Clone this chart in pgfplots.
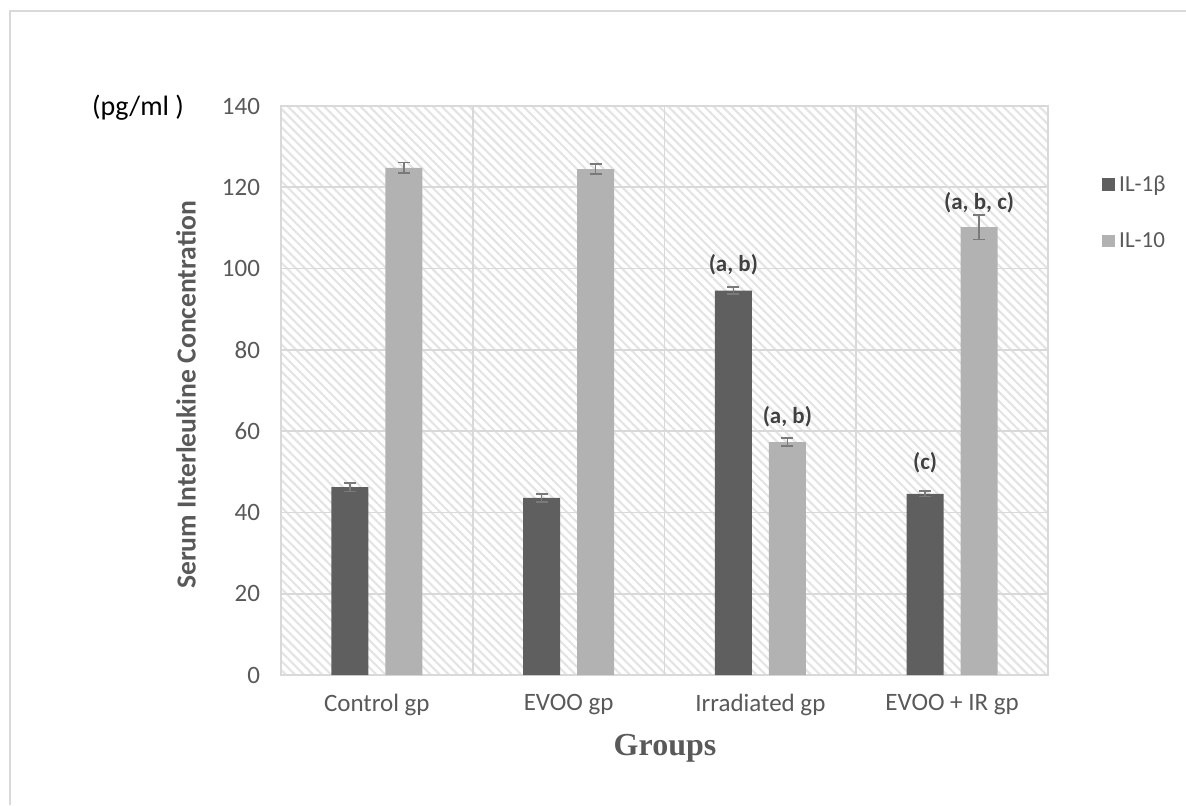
\documentclass[border=0pt]{standalone}
\usepackage{fontspec}
\setmainfont{Carlito}
\newfontfamily\timesf{Liberation Serif}
\usepackage{pgfplots}
\pgfplotsset{compat=1.18}
\usetikzlibrary{patterns.meta}
\definecolor{c1}{HTML}{5F5F5F}
\definecolor{c2}{HTML}{B2B2B2}
\definecolor{gridc}{HTML}{D9D9D9}
\definecolor{hatchc}{HTML}{E4E4E4}
\definecolor{tickc}{HTML}{595959}
\definecolor{errc}{HTML}{7A7A7A}
\definecolor{annc}{HTML}{404040}
\begin{document}
\begin{tikzpicture}
\path[use as bounding box] (0pt,0pt) rectangle (593pt,-402.5pt);
\draw[gridc, line width=0.75pt] (5pt,-402.5pt) -- (5pt,-5.5pt) -- (593pt,-5.5pt);
\begin{axis}[
  at={(140.5pt,-337.5pt)}, anchor=south west,
  scale only axis, width=383.5pt, height=284.5pt,
  ybar=8.5pt, bar width=18.5pt,
  xmin=-0.5, xmax=3.5, ymin=0, ymax=140,
  ytick={0,20,...,140},
  xtick={0,1,2,3},
  xticklabels={Control gp, EVOO gp, Irradiated gp, EVOO + IR gp},
  minor xtick={-0.5,0.5,1.5,2.5,3.5},
  xminorgrids, ymajorgrids,
  major tick length=0pt, minor tick length=0pt,
  grid style={draw=gridc, line width=0.9pt},
  minor grid style={draw=gridc, line width=0.9pt},
  major grid style={draw=gridc, line width=0.9pt},
  axis line style={draw=gridc, line width=0.9pt},
  axis background/.style={pattern={Lines[angle=-45,distance=3.2pt,line width=1.1pt]}, pattern color=hatchc},
  tick label style={font=\fontsize{12.5}{15}\selectfont, text=tickc},
  yticklabel style={xshift=-7pt},
  xticklabel style={yshift=-6pt},
  /pgf/number format/assume math mode=true,
  legend style={at={(axis description cs:1,1)}, anchor=north west, xshift=24pt, yshift=-30.5pt,
    draw=none, fill=none, font=\fontsize{11.5}{13}\selectfont, text=tickc, row sep=15pt,
    cells={anchor=west}},
  legend image code/.code={\fill[#1] (0pt,-3.2pt) rectangle (6.4pt,3.2pt);},
]
\addplot[fill=c1, draw=none,
  error bars/.cd, y dir=both, y explicit,
  error bar style={draw=errc, line width=0.8pt},
  error mark options={rotate=90, mark size=3pt, draw=errc, line width=0.8pt}]
  coordinates {(0,46.2) +- (0,1.0) (1,43.6) +- (0,1.0) (2,94.6) +- (0,0.9) (3,44.6) +- (0,0.7)};
\addlegendentry{IL-1β}
\addplot[fill=c2, draw=none,
  error bars/.cd, y dir=both, y explicit,
  error bar style={draw=errc, line width=0.8pt},
  error mark options={rotate=90, mark size=3pt, draw=errc, line width=0.8pt}]
  coordinates {(0,124.8) +- (0,1.3) (1,124.5) +- (0,1.2) (2,57.3) +- (0,1.0) (3,110.2) +- (0,3.0)};
\addlegendentry{IL-10}
\node[font=\bfseries\fontsize{11.5}{14}\selectfont, text=annc] at (axis cs:1.8592,100.9) {(a, b)};
\node[font=\bfseries\fontsize{11.5}{14}\selectfont, text=annc] at (axis cs:2.1408,63.5) {(a, b)};
\node[font=\bfseries\fontsize{11.5}{14}\selectfont, text=annc] at (axis cs:2.8592,52.2) {(c)};
\node[font=\bfseries\fontsize{11.5}{14}\selectfont, text=annc] at (axis cs:3.1408,116.1) {(a, b, c)};
\end{axis}
\node[font=\fontsize{14}{16}\selectfont, text=black] at (69pt,-54pt) {(pg/ml )};
\node[font=\bfseries\fontsize{13.8}{16}\selectfont, text=tickc, rotate=90] at (93pt,-197.5pt) {Serum Interleukine Concentration};
\node[font=\timesf\bfseries\fontsize{16}{19}\selectfont, text=tickc] at (332.5pt,-374pt) {Groups};
\end{tikzpicture}
\end{document}
